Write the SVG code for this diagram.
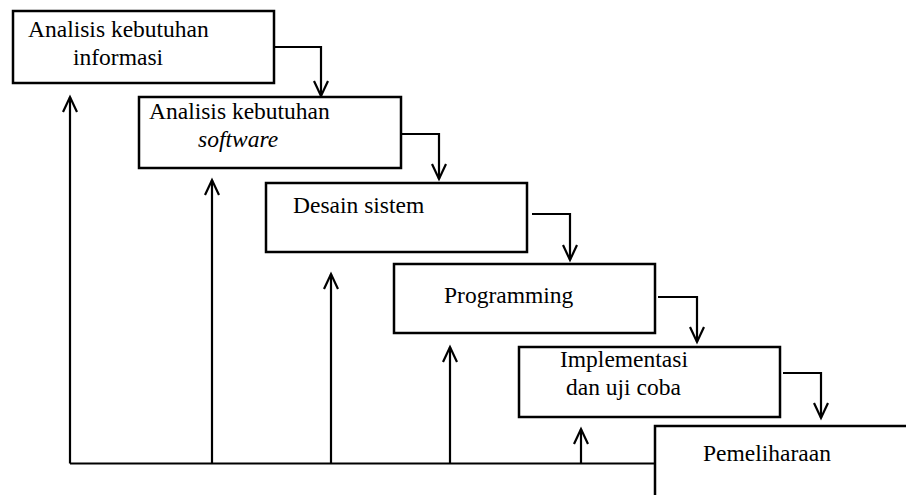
<svg xmlns="http://www.w3.org/2000/svg" width="906" height="495" viewBox="0 0 906 495">
<style>
.box{fill:#fff;stroke:#000;stroke-width:2.5}
.ln{fill:none;stroke:#000;stroke-width:2.2}
.t{font-family:"Liberation Serif","Times New Roman",serif;font-size:23.5px;fill:#000}
.i{font-style:italic}
</style>
<defs>
<marker id="ah" markerUnits="userSpaceOnUse" markerWidth="20" markerHeight="20" refX="15" refY="8" orient="auto" overflow="visible">
<path d="M0,1 L15,8 L0,15" fill="none" stroke="#000" stroke-width="2.2"/>
</marker>
</defs>
<rect width="906" height="495" fill="#fff"/>
<g id="connectors">
<path class="ln" d="M274,47 H321 V96" marker-end="url(#ah)"/>
<path class="ln" d="M401,134 H439 V179" marker-end="url(#ah)"/>
<path class="ln" d="M532,214 H570 V260" marker-end="url(#ah)"/>
<path class="ln" d="M658,297 H697 V342" marker-end="url(#ah)"/>
<path class="ln" d="M783,373 H821 V418" marker-end="url(#ah)"/>
<path class="ln" d="M70,463.5 H655"/>
<path class="ln" d="M70,463.5 V97" marker-end="url(#ah)"/>
<path class="ln" d="M212,463.5 V180" marker-end="url(#ah)"/>
<path class="ln" d="M331,463.5 V274" marker-end="url(#ah)"/>
<path class="ln" d="M450,463.5 V347" marker-end="url(#ah)"/>
<path class="ln" d="M581,463.5 V429" marker-end="url(#ah)"/>
</g>
<g id="n1">
<rect class="box" x="13" y="11" width="261" height="72"/>
<text class="t" x="28" y="37">Analisis kebutuhan</text>
<text class="t" x="73" y="65">informasi</text>
</g>
<g id="n2">
<rect class="box" x="139" y="97" width="262" height="71"/>
<text class="t" x="149" y="119">Analisis kebutuhan</text>
<text class="t i" x="198" y="147">software</text>
</g>
<g id="n3">
<rect class="box" x="266" y="183" width="261" height="69"/>
<text class="t" x="293" y="213">Desain sistem</text>
</g>
<g id="n4">
<rect class="box" x="394" y="264" width="261" height="69"/>
<text class="t" x="444" y="303">Programming</text>
</g>
<g id="n5">
<rect class="box" x="519" y="347" width="261" height="70"/>
<text class="t" x="560" y="367">Implementasi</text>
<text class="t" x="566" y="395">dan uji coba</text>
</g>
<g id="n6">
<path class="box" d="M655,500 V426 H910"/>
<text class="t" x="703" y="461">Pemeliharaan</text>
</g>
</svg>
